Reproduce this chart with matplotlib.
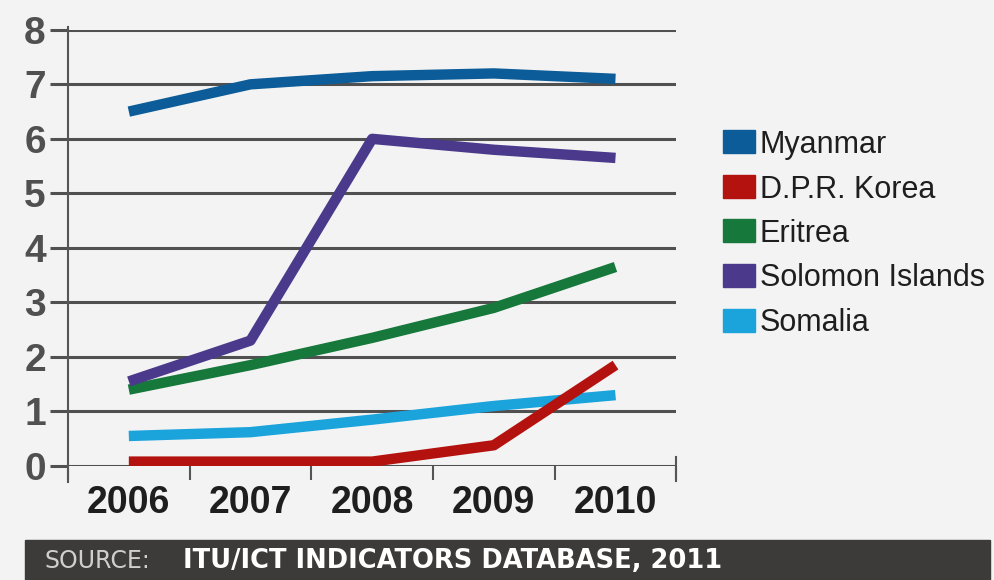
import matplotlib.pyplot as plt
from matplotlib.patches import Rectangle
import numpy as np

years = ['2006', '2007', '2008', '2009', '2010']
countries = ['Myanmar', 'D.P.R. Korea', 'Eritrea', 'Solomon Islands', 'Somalia']
myanmar = [6.5, 7.0, 7.15, 7.2, 7.1]
dpr_korea = [0.08, 0.08, 0.08, 0.38, 1.85]
eritrea = [1.4, 1.85, 2.35, 2.9, 3.65]
solomon = [1.55, 2.3, 6.0, 5.8, 5.65]
somalia = [0.55, 0.62, 0.85, 1.1, 1.3]
colors = ['#0b5c98', '#b3120f', '#16783a', '#4b3a8c', '#1ba3dc']

series = [myanmar, dpr_korea, eritrea, solomon, somalia]
font = ['Liberation Sans', 'DejaVu Sans']
bg = '#f3f3f3'

fig = plt.figure(figsize=(9.94, 5.8), dpi=100, facecolor=bg)
ax = fig.add_axes([0.0684, 0.1966, 0.612, 0.752])
ax.set_facecolor(bg)

x = np.arange(len(years))
# gridlines first, then data on top
for v in range(0, 9):
    ax.axhline(v, color='#505050', lw=2.2, zorder=1)
# draw order: Somalia / Korea on top like the original
for i in [2, 3, 0, 4, 1]:
    ax.plot(x, series[i], color=colors[i], lw=7.5, solid_capstyle='butt',
            solid_joinstyle='round', zorder=3)

ax.set_xlim(-0.5, 4.5)
ax.set_ylim(0, 8)
ax.set_yticks(range(0, 9))
ax.set_yticklabels([str(v) for v in range(9)], fontsize=28, fontweight='bold',
                   color='#505050', family=font)
ax.set_xticks(x)
ax.set_xticklabels(years, fontsize=27, fontweight='bold', color='#1e1e1e', family=font)
ax.set_xticks(np.arange(-0.5, 5.0, 1.0), minor=True)
ax.tick_params(axis='x', which='major', length=0, pad=14)
ax.tick_params(axis='x', which='minor', length=10, width=1.5, color='#555555', direction='out')
ax.tick_params(axis='y', length=13, width=2.2, color='#505050', pad=3, direction='out')
for s in ['top', 'right', 'bottom']:
    ax.spines[s].set_visible(False)
ax.spines['left'].set_color('#555555')
ax.spines['left'].set_linewidth(1.5)
ax.spines['left'].set_bounds(-0.3, 8.05)
ax.axvline(4.5, ymin=-0.035, ymax=0.02, color='#555555', lw=1.5, clip_on=False)

# legend drawn by hand
for k, (name, c) in enumerate(zip(countries, colors)):
    yy = 1 - (142 + 44.5 * k) / 580
    fig.add_artist(Rectangle((723 / 994, yy - 11.5 / 580), 32 / 994, 23 / 580,
                             transform=fig.transFigure, color=c))
    fig.text(760 / 994, yy - 3 / 580, name, fontsize=22, color='#1e1e1e', va='center',
             family=font)

# source bar
fig.add_artist(Rectangle((25 / 994, 0), 965 / 994, 40 / 580,
                         transform=fig.transFigure, color='#3d3b39'))
fig.text(44 / 994, 19 / 580, 'SOURCE:', fontsize=17, color='#cfcfcf', va='center',
         family='DejaVu Sans')
fig.text(183 / 994, 19 / 580, 'ITU/ICT INDICATORS DATABASE, 2011', fontsize=18.5,
         fontweight='bold', color='white', va='center', family='DejaVu Sans')

fig.savefig('out.png', dpi=100, facecolor=bg)
